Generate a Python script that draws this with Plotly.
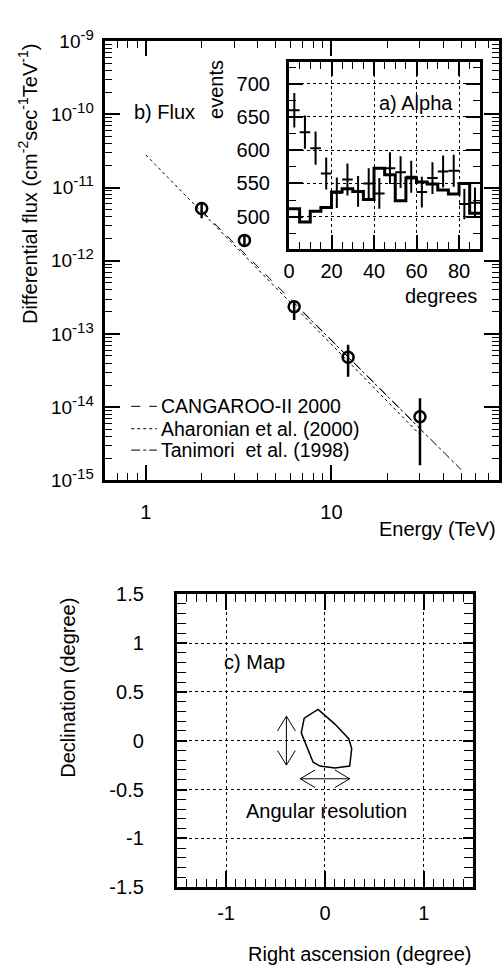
import plotly.graph_objects as go

W, H = 502, 978
FONT = 'Liberation Sans, Arial, sans-serif'

# ---- b) Flux ----
energy = [2.0, 3.4, 6.3, 12.3, 30.0]
flux = [5.2e-12, 1.9e-12, 2.35e-13, 4.8e-14, 7.4e-15]
flux_hi = [6.2e-12, 2.2e-12, 2.8e-13, 7.1e-14, 1.32e-14]
flux_lo = [3.8e-12, 1.58e-12, 1.55e-13, 2.6e-14, 1.6e-15]

cangaroo_e = [2.0, 30.0]
cangaroo_f = [4.85e-12, 5.1e-15]
aharonian_e = [1.0, 30.0]
aharonian_f = [2.8e-11, 4.2e-15]
tanimori_e = [7.0, 50.0]
tanimori_f = [2.0e-13, 1.4e-15]

fit_names = ['CANGAROO-II 2000', 'Aharonian et al. (2000)', 'Tanimori&nbsp; et al. (1998)']
fit_dash = ['dash', 'dot', 'dashdot']

flux_ticks = [1e-15, 1e-14, 1e-13, 1e-12, 1e-11, 1e-10, 1e-9]
flux_exps = ['-15', '-14', '-13', '-12', '-11', '-10', '-9']

# ---- a) Alpha ----
alpha_edges = [0, 5, 10, 15, 20, 25, 30, 35, 40, 45, 50, 55, 60, 65, 70, 75, 80, 85, 90]
alpha_off = [512, 492, 508, 514, 537, 542, 538, 526, 573, 563, 524, 558, 552, 549, 540, 534, 550, 505]
alpha_centers = [2.5, 7.5, 12.5, 17.5, 22.5, 27.5, 32.5, 37.5, 42.5, 47.5, 52.5, 57.5, 62.5, 67.5, 72.5, 77.5, 82.5, 87.5]
alpha_on = [660, 627, 603, 565, 536, 556, 538, 550, 535, 573, 567, 560, 537, 558, 568, 569, 519, 521]
alpha_err = [26, 25, 25, 24, 23, 24, 23, 23, 23, 24, 24, 24, 23, 24, 24, 24, 23, 23]

# ---- c) Map ----
contour_ra = [-0.07, -0.21, -0.24, -0.19, -0.12, -0.05, 0.10, 0.25, 0.27, 0.24, 0.10, -0.07]
contour_dec = [0.32, 0.23, 0.08, -0.04, -0.22, -0.26, -0.28, -0.26, -0.08, 0.02, 0.17, 0.32]
res_half = 0.25       # angular resolution (half length of arrows)
varrow_ra = -0.39
harrow_dec = -0.39
head_len = 0.15
head_w = 0.09


def px_x(x):
    return x / W


def px_y(y):
    return 1 - y / H


def frame(**kw):
    d = dict(showline=True, linewidth=3, linecolor='black', mirror='ticks',
             ticks='inside', tickcolor='black', tickwidth=1.5,
             tickfont=dict(size=20, color='black', family=FONT),
             showgrid=False, zeroline=False)
    d.update(kw)
    return d


fig = go.Figure()

# flux panel
for xs, ys, nm, ds in zip([cangaroo_e, aharonian_e, tanimori_e], [cangaroo_f, aharonian_f, tanimori_f],
                          fit_names, fit_dash):
    fig.add_trace(go.Scatter(x=xs, y=ys, mode='lines', name=nm, showlegend=False,
                             line=dict(color='black', width=1, dash=ds), xaxis='x', yaxis='y'))

err_up = [h - f for h, f in zip(flux_hi, flux)]
err_dn = [f - l for f, l in zip(flux, flux_lo)]
fig.add_trace(go.Scatter(x=energy, y=flux, mode='markers', showlegend=False,
                         marker=dict(symbol='circle-open', size=11, color='black', line=dict(width=2.5)),
                         error_y=dict(type='data', symmetric=False, array=err_up, arrayminus=err_dn,
                                      color='black', thickness=2.5, width=0),
                         xaxis='x', yaxis='y'))

# alpha inset
fig.add_trace(go.Scatter(x=alpha_edges, y=alpha_off + [alpha_off[-1]], mode='lines', line_shape='hv',
                         line=dict(color='black', width=3), showlegend=False, xaxis='x2', yaxis='y2'))
fig.add_trace(go.Scatter(x=alpha_centers, y=alpha_on, mode='markers', showlegend=False,
                         marker=dict(size=1, color='black'),
                         error_x=dict(type='constant', value=2.5, color='black', thickness=2, width=0),
                         error_y=dict(type='data', array=alpha_err, color='black', thickness=2, width=0),
                         xaxis='x2', yaxis='y2'))

# map
fig.add_trace(go.Scatter(x=contour_ra, y=contour_dec, mode='lines', showlegend=False,
                         line=dict(color='black', width=1.5), xaxis='x3', yaxis='y3'))

ax, ay = [], []
# vertical double arrow
top, bot = res_half, -res_half
ax += [varrow_ra, varrow_ra, None,
       varrow_ra - head_w, varrow_ra, varrow_ra + head_w, None,
       varrow_ra - head_w, varrow_ra, varrow_ra + head_w, None]
ay += [bot, top, None,
       top - head_len, top, top - head_len, None,
       bot + head_len, bot, bot + head_len, None]
# horizontal double arrow
lft, rgt = -res_half, res_half
ax += [lft, rgt, None,
       lft + head_len, lft, lft + head_len, None,
       rgt - head_len, rgt, rgt - head_len]
ay += [harrow_dec, harrow_dec, None,
       harrow_dec + head_w, harrow_dec, harrow_dec - head_w, None,
       harrow_dec + head_w, harrow_dec, harrow_dec - head_w]
fig.add_trace(go.Scatter(x=ax, y=ay, mode='lines', showlegend=False,
                         line=dict(color='black', width=1), xaxis='x3', yaxis='y3'))

minor_e = [0.6, 0.7, 0.8, 0.9, 2, 3, 4, 5, 6, 7, 8, 9, 20, 30, 40, 50, 60, 70, 80]
minor_f = [m * 10.0 ** k for k in range(-15, -9) for m in range(2, 10)]
flux_ticktext = ['10<sup><span style="font-size:15px">%s</span></sup>' % e for e in flux_exps]

fig.update_layout(
    width=W, height=H,
    margin=dict(l=0, r=0, t=0, b=0),
    paper_bgcolor='white', plot_bgcolor='white',
    showlegend=False,
    font=dict(family=FONT, size=20, color='black'),
    xaxis=frame(type='log', range=[-0.2218, 1.903], domain=[px_x(100), px_x(500)], anchor='y',
                tickvals=[1, 10], ticktext=['1', '10'], ticklen=15, ticklabelstandoff=12,
                minor=dict(tickvals=minor_e, ticks='inside', ticklen=7, tickcolor='black', tickwidth=1)),
    yaxis=frame(type='log', range=[-15, -9], domain=[px_y(478), px_y(27)], anchor='x',
                tickvals=flux_ticks, ticktext=flux_ticktext, ticklen=15, ticklabelstandoff=4,
                tickfont=dict(size=19, color='black', family=FONT),
                minor=dict(tickvals=minor_f, ticks='inside', ticklen=7, tickcolor='black', tickwidth=1)),
    xaxis2=frame(range=[0, 90], domain=[px_x(287), px_x(481)], anchor='y2',
                 tickvals=[0, 20, 40, 60, 80], ticklen=14, ticklabelstandoff=2,
                 showgrid=True, gridcolor='black', griddash='dot', gridwidth=1,
                 minor=dict(dtick=5, tick0=0, ticks='inside', ticklen=7, tickcolor='black', tickwidth=1)),
    yaxis2=frame(range=[452, 733], domain=[px_y(240), px_y(48)], anchor='x2',
                 tickvals=[500, 550, 600, 650, 700], ticklen=14, ticklabelstandoff=12,
                 showgrid=True, gridcolor='black', griddash='dot', gridwidth=1,
                 minor=dict(dtick=25, tick0=0, ticks='inside', ticklen=7, tickcolor='black', tickwidth=1)),
    xaxis3=frame(range=[-1.5, 1.5], domain=[px_x(173), px_x(474)], anchor='y3',
                 tickvals=[-1, 0, 1], ticktext=['-1', '0', '1'], ticklen=16, ticklabelstandoff=6,
                 showgrid=True, gridcolor='black', griddash='dot', gridwidth=1, linewidth=2.5,
                 minor=dict(dtick=0.1, tick0=0, ticks='inside', ticklen=8, tickcolor='black', tickwidth=1)),
    yaxis3=frame(range=[-1.5, 1.5], domain=[px_y(896), px_y(595)], anchor='x3',
                 tickvals=[-1.5, -1, -0.5, 0, 0.5, 1, 1.5],
                 ticktext=['-1.5', '-1', '-0.5', '0', '0.5', '1', '1.5'],
                 ticklen=11, ticklabelstandoff=26,
                 showgrid=True, gridcolor='black', griddash='dot', gridwidth=1, linewidth=2.5,
                 minor=dict(dtick=0.1, tick0=0, ticks='inside', ticklen=10, tickcolor='black', tickwidth=1)),
)

# legend drawn by hand, ROOT style: short line sample then label
leg_rows = [402, 425, 447]
for nm, ds, row in zip(fit_names, fit_dash, leg_rows):
    fig.add_shape(type='line', xref='paper', yref='paper',
                  x0=px_x(127), x1=px_x(153), y0=px_y(row), y1=px_y(row),
                  line=dict(color='black', width=1, dash=ds))
    fig.add_annotation(xref='paper', yref='paper', showarrow=False, text=nm,
                       x=px_x(155), y=px_y(row), xanchor='left', yanchor='middle',
                       font=dict(size=19.5, family=FONT, color='black'))

notes = [
    dict(text='Differential flux (cm<sup>-2</sup>sec<sup>-1</sup>TeV<sup>-1</sup>)', x=px_x(22), y=px_y(174),
         textangle=-90, xanchor='center', yanchor='middle'),
    dict(text='b) Flux', x=px_x(128), y=px_y(100), xanchor='left', yanchor='middle'),
    dict(text='Energy (TeV)', x=px_x(499), y=px_y(528), xanchor='right', yanchor='middle'),
    dict(text='events', x=px_x(213), y=px_y(77), textangle=-90, xanchor='center', yanchor='middle'),
    dict(text='a) Alpha', x=px_x(376), y=px_y(90), xanchor='left', yanchor='middle'),
    dict(text='degrees', x=px_x(480), y=px_y(289), xanchor='right', yanchor='middle'),
    dict(text='c) Map', x=px_x(219), y=px_y(665), xanchor='left', yanchor='middle'),
    dict(text='Angular resolution', x=px_x(241), y=px_y(818), xanchor='left', yanchor='middle'),
    dict(text='Right ascension (degree)', x=px_x(474), y=px_y(965), xanchor='right', yanchor='middle'),
    dict(text='Declination (degree)', x=px_x(62), y=px_y(691), textangle=-90, xanchor='center', yanchor='middle'),
]
for n in notes:
    fig.add_annotation(xref='paper', yref='paper', showarrow=False,
                       font=dict(size=20, family=FONT, color='black'), **n)

# page body margin would push the 502x978 figure out of the window
fig.write_html("out.html", config={'displayModeBar': False},
               post_script="document.body.style.margin='0';")
